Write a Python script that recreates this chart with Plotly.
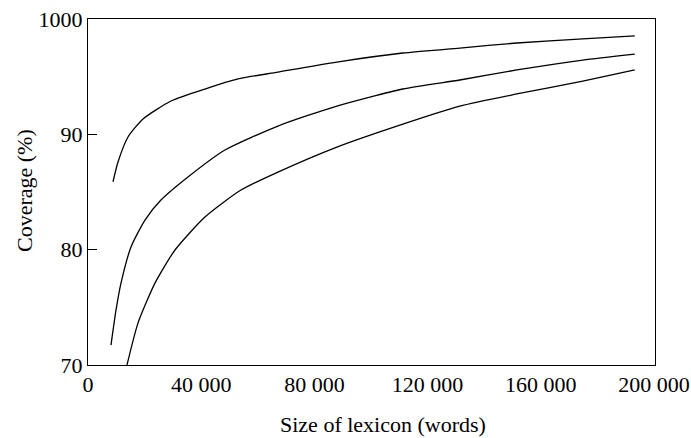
import plotly.graph_objects as go

# Data
top_x = [8830, 10600, 14130, 19430, 29320, 41320, 52980, 67110, 87950, 111260, 131390, 151520, 174830, 193200]
top_y = [85.89, 87.60, 89.77, 91.33, 92.89, 93.93, 94.80, 95.40, 96.27, 97.05, 97.48, 97.92, 98.27, 98.53]

mid_x = [8120, 9890, 11660, 15190, 20130, 25780, 35320, 48390, 67110, 87950, 111260, 131390, 151520, 174830, 193200]
mid_y = [71.73, 74.76, 77.10, 80.23, 82.57, 84.30, 86.30, 88.64, 90.72, 92.45, 93.93, 94.71, 95.58, 96.44, 96.96]

bot_x = [13770, 17660, 23660, 30730, 41320, 54040, 67110, 87950, 111260, 131390, 151520, 174830, 193200]
bot_y = [70.0, 73.63, 77.10, 79.97, 82.83, 85.17, 86.73, 88.90, 90.89, 92.45, 93.50, 94.62, 95.58]

x_tickvals = [0, 40000, 80000, 120000, 160000, 200000]
x_ticktext = ["0", "40 000", "80 000", "120 000", "160 000", "200 000"]
y_tickvals = [70, 80, 90, 100]
y_ticktext = ["70", "80", "90", "1000"]

FONT = "Liberation Serif, Times New Roman, serif"

fig = go.Figure()
for xs, ys in [(top_x, top_y), (mid_x, mid_y), (bot_x, bot_y)]:
    fig.add_trace(go.Scatter(x=xs, y=ys, mode="lines",
                             line=dict(color="black", width=1.3, shape="spline", smoothing=0.6),
                             showlegend=False, hoverinfo="skip"))

fig.update_layout(
    width=691, height=438,
    margin=dict(l=88, r=36, t=19, b=73),
    paper_bgcolor="white", plot_bgcolor="white",
    font=dict(family=FONT, size=22, color="black"),
    xaxis=dict(range=[0, 200350], tickvals=x_tickvals, ticktext=x_ticktext,
               showgrid=False, zeroline=False, showline=True, linecolor="black",
               linewidth=1, mirror=True, ticks="", tickfont=dict(size=22),
               automargin=False),
    yaxis=dict(range=[70, 100], tickvals=y_tickvals, ticktext=y_ticktext,
               showgrid=False, zeroline=False, showline=True, linecolor="black",
               linewidth=1, mirror=True, ticks="inside", ticklen=9, tickcolor="black",
               tickfont=dict(size=22), automargin=False),
    annotations=[
        dict(text="Size of lexicon (words)", xref="paper", yref="paper",
             x=0.52, y=-0.173, xanchor="center", yanchor="middle",
             showarrow=False, font=dict(size=22)),
        dict(text="Coverage (%)", xref="paper", yref="paper",
             x=-0.111, y=0.503, xanchor="center", yanchor="middle",
             textangle=-90, showarrow=False, font=dict(size=22)),
    ],
)

fig.write_html("out.html", config={"displayModeBar": False},
               post_script="document.body.style.margin='0';document.body.style.overflow='hidden';")
